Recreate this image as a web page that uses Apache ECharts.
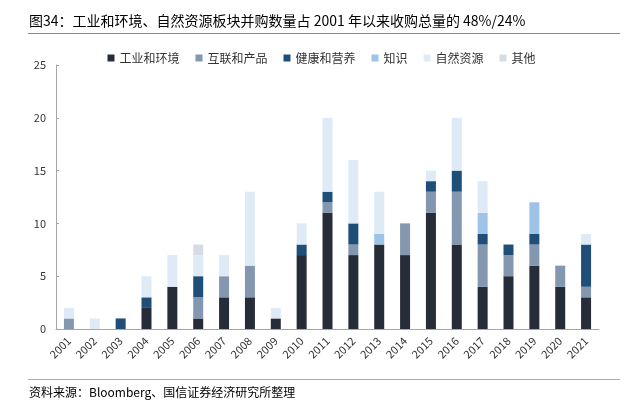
<!DOCTYPE html>
<html>
<head>
<meta charset="utf-8">
<script src="https://cdn.jsdelivr.net/npm/echarts@6/dist/echarts.min.js"></script>
<style>
html,body{margin:0;padding:0;background:#fff;}
#chart{width:643px;height:412px;}
</style>
</head>
<body>
<div id="chart"></div>
<script>
const years = ['2001','2002','2003','2004','2005','2006','2007','2008','2009','2010','2011','2012','2013','2014','2015','2016','2017','2018','2019','2020','2021'];
const industry  = [0,0,0,2,4,1,3,3,1,7,11,7,8,7,11,8,4,5,6,4,3];
const internet  = [1,0,0,0,0,2,2,3,0,0,1,1,0,3,2,5,4,2,2,2,1];
const health    = [0,0,1,1,0,2,0,0,0,1,1,2,0,0,1,2,1,1,1,0,4];
const knowledge = [0,0,0,0,0,0,0,0,0,0,0,0,1,0,0,0,2,0,3,0,0];
const nature    = [1,1,0,2,3,2,2,7,1,2,7,6,4,0,1,5,3,0,0,0,1];
const other     = [0,0,0,0,0,1,0,0,0,0,0,0,0,0,0,0,0,0,0,0,0];
const yTicks = [0,5,10,15,20,25];

const names = ['工业和环境','互联和产品','健康和营养','知识','自然资源','其他'];
const colors = ['#262c38','#8497b0','#1f4e79','#9dc3e6','#deebf7','#d6dce4'];
const datas = [industry, internet, health, knowledge, nature, other];
const FONT = '"Noto Sans CJK SC", "Noto Sans", sans-serif';

const chart = echarts.init(document.getElementById('chart'));
chart.setOption({
  animation: false,
  textStyle: { fontFamily: FONT },
  color: colors,
  graphic: [
    { type: 'text', left: 29, top: 14, style: { text: '图34：工业和环境、自然资源板块并购数量占 2001 年以来收购总量的 48%/24%', font: '14px ' + FONT, fill: '#000' } },
    { type: 'line', shape: { x1: 28, y1: 33.5, x2: 620, y2: 33.5 }, style: { stroke: '#888', lineWidth: 1 } },
    { type: 'line', shape: { x1: 28, y1: 379.5, x2: 620, y2: 379.5 }, style: { stroke: '#aaa', lineWidth: 1 } },
    { type: 'text', left: 29, top: 386, style: { text: '资料来源：Bloomberg、国信证券经济研究所整理', font: '12px ' + FONT, fill: '#000' } }
  ],
  legend: {
    top: 47,
    left: 'center',
    itemWidth: 7,
    itemHeight: 7,
    itemGap: 16,
    icon: 'rect',
    textStyle: { fontSize: 12, color: '#333', fontFamily: FONT },
    data: names
  },
  grid: { left: 56, right: 44, top: 65, bottom: 83, containLabel: false },
  xAxis: {
    type: 'category',
    data: years,
    axisLine: { lineStyle: { color: '#a6a6a6' } },
    axisTick: { inside: true, length: 3, lineStyle: { color: '#a6a6a6' } },
    axisLabel: { rotate: 45, fontSize: 11, color: '#333', margin: 10, interval: 0 }
  },
  yAxis: {
    type: 'value',
    min: yTicks[0],
    max: yTicks[yTicks.length - 1],
    interval: 5,
    axisLine: { show: true, lineStyle: { color: '#a6a6a6' } },
    axisTick: { show: true, inside: true, length: 3, lineStyle: { color: '#a6a6a6' } },
    splitLine: { show: false },
    axisLabel: { fontSize: 11, color: '#333', margin: 10 }
  },
  series: names.map((n, i) => ({
    name: n,
    type: 'bar',
    stack: 'total',
    barWidth: 10,
    data: datas[i],
    itemStyle: { color: colors[i] }
  }))
});
</script>
</body>
</html>
